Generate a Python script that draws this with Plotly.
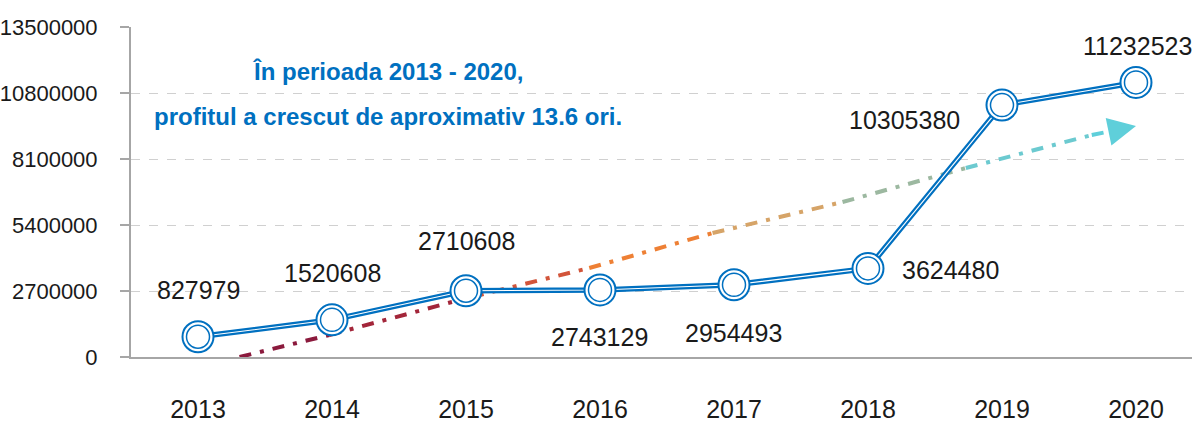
import plotly.graph_objects as go

# profit per year
years = ["2013", "2014", "2015", "2016", "2017", "2018", "2019", "2020"]
profit = [827979, 1520608, 2710608, 2743129, 2954493, 3624480, 10305380, 11232523]

y_ticks = [0, 2700000, 5400000, 8100000, 10800000, 13500000]

# decorative trend arrow (category index, value)
trend_x = [0.31, 0.98, 1.95, 2.92, 3.84, 4.81, 5.73, 6.67, 6.85]
trend_y = [0, 900000, 2330000, 3640000, 5070000, 6340000, 7730000, 9080000, 9280000]
trend_colors = ["#8B1A3D", "#A3263A", "#D2553A", "#EE8035", "#D6A468",
                "#9CB8A0", "#6CCAD0", "#5FCFDA"]
arrow_tip = (7.0, 9450000)

headline = ["În perioada 2013 - 2020,", "profitul a crescut de aproximativ 13.6 ori."]

BLUE = "#0070C0"
FONT = "Liberation Sans Narrow, Liberation Sans, Arial, sans-serif"

xs = list(range(len(years)))

fig = go.Figure()

# trend line, one segment per colour
for i in range(len(trend_colors)):
    fig.add_trace(go.Scatter(
        x=trend_x[i:i + 2], y=trend_y[i:i + 2], mode="lines",
        line=dict(color=trend_colors[i], width=4, dash="12px,9px,4px,9px"),
        hoverinfo="skip", showlegend=False))

fig.add_annotation(x=arrow_tip[0], y=arrow_tip[1], ax=trend_x[-1], ay=trend_y[-1],
                   xref="x", yref="y", axref="x", ayref="y", text="",
                   showarrow=True, arrowhead=2, arrowsize=1.4, arrowwidth=4,
                   arrowcolor=trend_colors[-1], standoff=0)

# double line: thick blue with a thin white core
fig.add_trace(go.Scatter(x=xs, y=profit, mode="lines",
                         line=dict(color=BLUE, width=5.5), showlegend=False))
fig.add_trace(go.Scatter(x=xs, y=profit, mode="lines",
                         line=dict(color="white", width=1.1), showlegend=False,
                         hoverinfo="skip"))
# double ring markers
fig.add_trace(go.Scatter(x=xs, y=profit, mode="markers",
                         marker=dict(size=31, color="white",
                                     line=dict(color=BLUE, width=2)),
                         showlegend=False))
fig.add_trace(go.Scatter(x=xs, y=profit, mode="markers",
                         marker=dict(size=23, color="rgba(0,0,0,0)",
                                     line=dict(color=BLUE, width=1.5)),
                         showlegend=False, hoverinfo="skip"))

# data labels (offsets in px)
label_shift = [(0, 47), (0, 47), (0, 50), (0, -47), (0, -48), (83, -2), (-97, -15), (2, 36)]
for i, v in enumerate(profit):
    dx, dy = label_shift[i]
    fig.add_annotation(x=i, y=v, text=str(v), showarrow=False,
                       xshift=dx, yshift=dy,
                       font=dict(family=FONT, size=25, color="#1a1a1a"))

# headline
fig.add_annotation(x=1.42, y=11660000, text="<b>" + headline[0] + "</b>",
                   showarrow=False, font=dict(family=FONT, size=24, color=BLUE))
fig.add_annotation(x=1.42, y=9820000, text="<b>" + headline[1] + "</b>",
                   showarrow=False, font=dict(family=FONT, size=24, color=BLUE))

fig.update_layout(
    width=1192, height=423,
    margin=dict(l=131, r=0, t=27, b=66),
    paper_bgcolor="white", plot_bgcolor="white",
    xaxis=dict(range=[-0.5, 7.418], tickmode="array", tickvals=xs, ticktext=years,
               showgrid=False, zeroline=False, showline=True, linecolor="#A6A6A6",
               linewidth=2, ticks="", ticklabelstandoff=29, automargin=False,
               tickfont=dict(family=FONT, size=25, color="#1a1a1a")),
    yaxis=dict(range=[0, 13500000], tickmode="array", tickvals=y_ticks,
               ticktext=[str(t) for t in y_ticks],
               showgrid=True, gridcolor="#D0D0D0", griddash="dash", gridwidth=1,
               zeroline=False, showline=True, linecolor="#A6A6A6", linewidth=2,
               ticks="outside", ticklen=9, tickcolor="#A6A6A6", tickwidth=2,
               ticklabelstandoff=18, automargin=False,
               tickfont=dict(family=FONT, size=22, color="#1a1a1a")),
)

# page margin off so the figure fills the window
fig.write_html("out.html", config={"displayModeBar": False},
               post_script="document.body.style.margin='0';")
